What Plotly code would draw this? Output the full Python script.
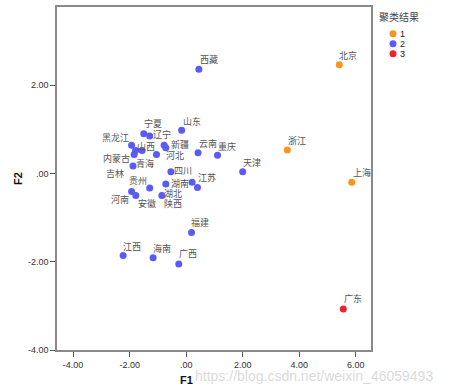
import plotly.graph_objects as go

provinces = ["北京", "上海", "浙江", "广东", "西藏", "山东", "宁夏", "辽宁", "黑龙江", "山西",
             "青海", "内蒙古", "新疆", "甘肃", "河北", "吉林", "贵州", "河南", "安徽", "湖北",
             "陕西", "四川", "云南", "重庆", "天津", "湖南", "江苏", "福建", "江西", "海南", "广西"]
f1 = [5.42, 5.86, 3.58, 5.56, 0.45, -0.16, -1.50, -1.29, -1.93, -1.79,
      -1.56, -1.84, -0.72, -0.78, -1.05, -1.88, -1.29, -1.93, -1.78, -0.72,
      -0.86, -0.54, 0.42, 1.11, 2.00, 0.21, 0.40, 0.19, -2.23, -1.17, -0.26]
f2 = [2.46, -0.20, 0.53, -3.07, 2.36, 0.98, 0.90, 0.85, 0.64, 0.52,
      0.52, 0.43, 0.58, 0.64, 0.43, 0.17, -0.33, -0.41, -0.50, -0.24,
      -0.50, 0.04, 0.47, 0.41, 0.04, -0.20, -0.32, -1.34, -1.86, -1.91, -2.05]
cluster = [1, 1, 1, 3, 2, 2, 2, 2, 2, 2,
           2, 2, 2, 2, 2, 2, 2, 2, 2, 2,
           2, 2, 2, 2, 2, 2, 2, 2, 2, 2, 2]
cluster_names = ["1", "2", "3"]
legend_title = "聚类结果"
tick_vals_x = [-4, -2, 0, 2, 4, 6]
tick_text_x = ["-4.00", "-2.00", ".00", "2.00", "4.00", "6.00"]
tick_vals_y = [-4, -2, 0, 2]
tick_text_y = ["-4.00", "-2.00", ".00", "2.00"]

colors = {"1": "#F7961E", "2": "#5A5AF8", "3": "#E8262B"}

# label pixel offsets (dx right, dy down) relative to each point
label_offset = {
    "北京": (9, -9), "上海": (10, -10), "浙江": (10, -10), "广东": (10, -10), "西藏": (10, -10),
    "山东": (10, -9), "宁夏": (9, -10), "辽宁": (12, -1), "黑龙江": (-16, -8), "山西": (10, -4),
    "青海": (3, 13), "内蒙古": (-18, 4), "新疆": (14, -3), "河北": (19, 1), "吉林": (-18, 8),
    "贵州": (-12, -7), "河南": (-12, 8), "安徽": (11, 8), "湖北": (7, 9), "陕西": (11, 8),
    "四川": (12, -1), "云南": (10, -9), "重庆": (9, -9), "天津": (9, -9), "湖南": (-12, 1),
    "江苏": (10, -10), "福建": (8, -10), "江西": (9, -9), "海南": (9, -9), "广西": (9, -10),
}

W, H = 469, 390
ML, MR, MT, MB = 57, 98, 5, 40
PW, PH = W - ML - MR, H - MT - MB


def px_to_paper(px, py):
    return (px - ML) / PW, (H - MB - py) / PH


fig = go.Figure()
for c in cluster_names:
    xs = [f1[i] for i in range(len(f1)) if str(cluster[i]) == c]
    ys = [f2[i] for i in range(len(f2)) if str(cluster[i]) == c]
    fig.add_trace(go.Scatter(
        x=xs, y=ys, mode="markers", name=c, showlegend=False,
        marker=dict(color=colors[c], size=7, line=dict(width=0)),
    ))

for name, x, y in zip(provinces, f1, f2):
    if name not in label_offset:
        continue
    dx, dy = label_offset[name]
    fig.add_annotation(
        x=x, y=y, text=name, showarrow=False, xshift=dx, yshift=-dy,
        font=dict(family="Noto Sans CJK SC", size=9, color="#555555"),
    )

# custom compact legend
tx, ty = px_to_paper(377, 15)
fig.add_annotation(xref="paper", yref="paper", x=tx, y=ty, text=legend_title, showarrow=False,
                   xanchor="left", yanchor="middle",
                   font=dict(family="Noto Sans CJK SC", size=10, color="#444444"))
for k, c in enumerate(cluster_names):
    mx, my = px_to_paper(393, 32 + 10 * k)
    fig.add_shape(type="circle", xref="paper", yref="paper",
                  xsizemode="pixel", ysizemode="pixel", xanchor=mx, yanchor=my,
                  x0=-3.5, x1=3.5, y0=-3.5, y1=3.5,
                  fillcolor=colors[c], line=dict(width=0))
    lx, ly = px_to_paper(398, 32 + 10 * k)
    fig.add_annotation(xref="paper", yref="paper", x=lx, y=ly, text=c, showarrow=False,
                       xanchor="left", yanchor="middle",
                       font=dict(family="Liberation Sans", size=9, color="#222222"))

axis_common = dict(
    showgrid=False, zeroline=False, showline=True, mirror=True,
    linecolor="#8a8a8a", linewidth=1.5,
    ticks="outside", ticklen=5, tickcolor="#555555", tickwidth=1,
    tickfont=dict(family="Liberation Sans", size=9, color="#333333"),
)

fig.update_layout(
    width=W, height=H,
    margin=dict(l=ML, r=MR, t=MT, b=MB),
    plot_bgcolor="white", paper_bgcolor="white",
    xaxis=dict(range=[-4.57, 6.54], tickvals=tick_vals_x, ticktext=tick_text_x, **axis_common),
    yaxis=dict(range=[-4.0, 3.77], tickvals=tick_vals_y, ticktext=tick_text_y, **axis_common),
    showlegend=False,
)

fx, fy = px_to_paper(186, 380)
fig.add_annotation(xref="paper", yref="paper", x=fx, y=fy, text="<b>F1</b>", showarrow=False,
                   xanchor="center", yanchor="middle",
                   font=dict(family="Liberation Sans", size=11, color="#111111"))
gx, gy = px_to_paper(18, 178)
fig.add_annotation(xref="paper", yref="paper", x=gx, y=gy, text="<b>F2</b>", showarrow=False,
                   textangle=-90, xanchor="center", yanchor="middle",
                   font=dict(family="Liberation Sans", size=11, color="#111111"))
wx, wy = px_to_paper(193, 376)
fig.add_annotation(xref="paper", yref="paper", x=wx, y=wy,
                   text="https://blog.csdn.net/weixin_46059493", showarrow=False,
                   xanchor="left", yanchor="middle",
                   font=dict(family="Liberation Sans", size=14, color="rgba(170,170,170,0.45)"))

fig.write_html("out.html", config={"displayModeBar": False},
               post_script="document.body.style.margin='0px';")
